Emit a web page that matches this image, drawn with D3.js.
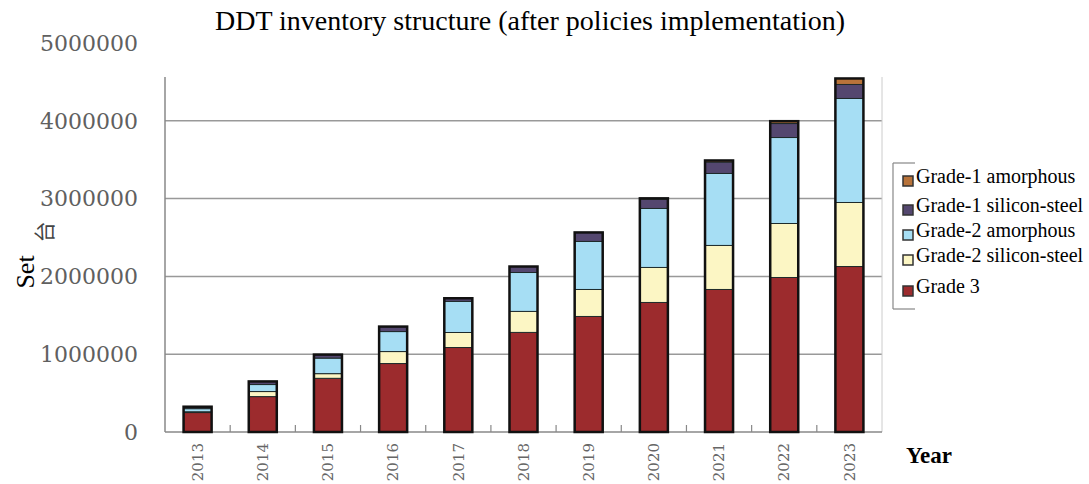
<!DOCTYPE html>
<html>
<head>
<meta charset="utf-8">
<script src="https://cdn.jsdelivr.net/npm/d3@7"></script>
<style>
  body { margin: 0; background: #fff; }
</style>
</head>
<body>
<svg id="chart" width="1089" height="484"></svg>
<script>
const years = ['2013', '2014', '2015', '2016', '2017', '2018', '2019', '2020', '2021', '2022', '2023'];
const grade3 = [250000, 455000, 690000, 880000, 1086000, 1280000, 1485000, 1665000, 1832000, 1986000, 2127000];
const grade2Silicon = [10000, 65000, 60000, 154000, 193000, 270000, 347000, 450000, 566000, 694000, 823000];
const grade2Amorphous = [40000, 90000, 200000, 257000, 400000, 500000, 617000, 758000, 925000, 1105000, 1337000];
const grade1Silicon = [25000, 40000, 45000, 64000, 40000, 77000, 116000, 120000, 147000, 180000, 180000];
const grade1Amorphous = [0, 0, 0, 0, 0, 0, 0, 10000, 20000, 30000, 77000];
const seriesNames = ['Grade 3', 'Grade-2 silicon-steel', 'Grade-2 amorphous', 'Grade-1 silicon-steel', 'Grade-1 amorphous'];
const yTicks = [0, 1000000, 2000000, 3000000, 4000000, 5000000];

(() => {
  const svg = d3.select('#chart');
  const left = 165, right = 882, top = 77, bottom = 432;

  const data = years.map((year, i) => ({
    year: year,
    'Grade 3': grade3[i],
    'Grade-2 silicon-steel': grade2Silicon[i],
    'Grade-2 amorphous': grade2Amorphous[i],
    'Grade-1 silicon-steel': grade1Silicon[i],
    'Grade-1 amorphous': grade1Amorphous[i]
  }));

  const x = d3.scaleBand()
      .domain(years)
      .range([left, right])
      .paddingInner(0.57)
      .paddingOuter(0.285);

  const y = d3.scaleLinear()
      .domain([0, 5000000])
      .range([bottom, 43]);

  const z = d3.scaleOrdinal()
      .domain(seriesNames)
      .range(['#9c2b2d', '#fcf6c4', '#a6def4', '#54476f', '#b8733a']);

  // title
  svg.append('text')
      .attr('x', 530)
      .attr('y', 30)
      .attr('text-anchor', 'middle')
      .style('font-family', '"Liberation Serif", serif')
      .style('font-size', '28px')
      .text('DDT inventory structure (after policies implementation)');

  // gridlines
  svg.append('g')
      .selectAll('line')
      .data(yTicks.filter(d => d > 0 && y(d) > top))
      .enter().append('line')
      .attr('x1', left)
      .attr('x2', right)
      .attr('y1', d => y(d))
      .attr('y2', d => y(d))
      .attr('stroke', '#999')
      .attr('stroke-width', 1.5);

  // frame
  svg.append('line')
      .attr('x1', left).attr('x2', left)
      .attr('y1', top).attr('y2', bottom)
      .attr('stroke', '#888').attr('stroke-width', 1.5);
  svg.append('line')
      .attr('x1', right).attr('x2', right)
      .attr('y1', top).attr('y2', bottom)
      .attr('stroke', '#ccc').attr('stroke-width', 1);
  svg.append('line')
      .attr('x1', left).attr('x2', right)
      .attr('y1', bottom).attr('y2', bottom)
      .attr('stroke', '#888').attr('stroke-width', 1.5);

  // x ticks between bands
  svg.append('g')
      .selectAll('line')
      .data(years.slice(1))
      .enter().append('line')
      .attr('x1', d => x(d) + x.bandwidth() / 2 - x.step() / 2)
      .attr('x2', d => x(d) + x.bandwidth() / 2 - x.step() / 2)
      .attr('y1', bottom)
      .attr('y2', bottom - 7)
      .attr('stroke', '#888')
      .attr('stroke-width', 1.2);

  // y tick labels
  svg.append('g')
      .selectAll('text')
      .data(yTicks)
      .enter().append('text')
      .attr('x', 138)
      .attr('y', d => y(d))
      .attr('dy', '0.35em')
      .attr('text-anchor', 'end')
      .attr('fill', '#606060')
      .style('font-family', '"DejaVu Serif", serif')
      .style('font-size', '22px')
      .text(d => d);

  // x tick labels
  svg.append('g')
      .selectAll('text')
      .data(years)
      .enter().append('text')
      .attr('transform', d => `translate(${x(d) + x.bandwidth() / 2},443)rotate(-90)`)
      .attr('dy', '0.35em')
      .attr('text-anchor', 'end')
      .attr('fill', '#666')
      .style('font-family', '"DejaVu Serif", serif')
      .style('font-size', '15px')
      .text(d => d);

  // stacked bars
  const stacked = d3.stack().keys(seriesNames)(data);

  svg.append('g')
      .selectAll('g')
      .data(stacked)
      .enter().append('g')
      .attr('fill', d => z(d.key))
      .selectAll('rect')
      .data(d => d)
      .enter().append('rect')
      .attr('x', d => x(d.data.year))
      .attr('y', d => y(d[1]))
      .attr('width', x.bandwidth())
      .attr('height', d => y(d[0]) - y(d[1]))
      .attr('stroke', '#1e2a2a')
      .attr('stroke-width', 1);

  const last = stacked[stacked.length - 1];
  svg.append('g')
      .selectAll('rect')
      .data(last)
      .enter().append('rect')
      .attr('x', d => x(d.data.year))
      .attr('y', d => y(d[1]))
      .attr('width', x.bandwidth())
      .attr('height', d => y(0) - y(d[1]))
      .attr('fill', 'none')
      .attr('stroke', '#111')
      .attr('stroke-width', 2.5);

  // axis titles
  svg.append('text')
      .attr('transform', 'translate(34,272)rotate(-90)')
      .attr('text-anchor', 'middle')
      .style('font-family', '"Liberation Serif", serif')
      .style('font-size', '26px')
      .text('Set');

  svg.append('text')
      .attr('transform', 'translate(52,232)rotate(-90)')
      .attr('text-anchor', 'middle')
      .attr('fill', '#444')
      .style('font-family', '"Noto Sans CJK SC", sans-serif')
      .style('font-size', '21px')
      .text('台');

  svg.append('text')
      .attr('x', 906)
      .attr('y', 463)
      .style('font-family', '"Liberation Serif", serif')
      .style('font-size', '23px')
      .style('font-weight', 'bold')
      .text('Year');

  // legend
  const legendBox = svg.append('g').attr('stroke', '#888').attr('stroke-width', 1.2);
  legendBox.append('line').attr('x1', 893).attr('x2', 893).attr('y1', 163).attr('y2', 309);
  legendBox.append('line').attr('x1', 893).attr('x2', 915).attr('y1', 163).attr('y2', 163);
  legendBox.append('line').attr('x1', 893).attr('x2', 915).attr('y1', 309).attr('y2', 309);

  const legendRows = [183, 212, 237, 262, 293];
  const legend = svg.append('g')
      .selectAll('g')
      .data(seriesNames.slice().reverse())
      .enter().append('g')
      .attr('transform', (d, i) => `translate(903,${legendRows[i]})`);

  legend.append('rect')
      .attr('y', -7)
      .attr('width', 10)
      .attr('height', 10)
      .attr('fill', z)
      .attr('stroke', '#333')
      .attr('stroke-width', 1.5);

  legend.append('text')
      .attr('x', 13)
      .style('font-family', '"Liberation Serif", serif')
      .style('font-size', '20px')
      .text(d => d);
})();
</script>
</body>
</html>
